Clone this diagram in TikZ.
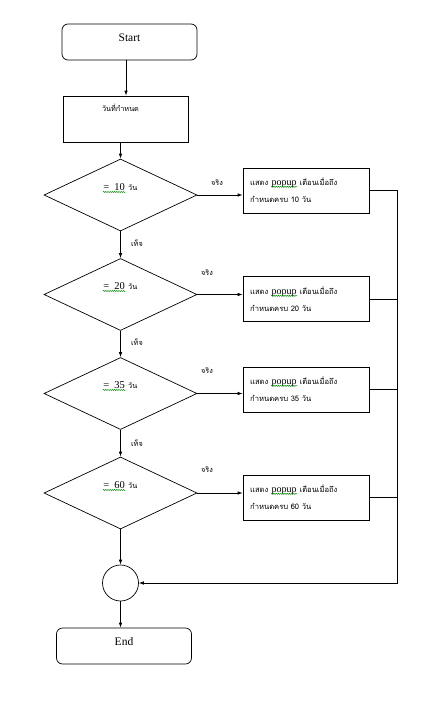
\documentclass[tikz,border=0pt]{standalone}
\usepackage{fontspec}
\setmainfont{Liberation Serif}
\newfontfamily\thai[Script=Thai]{Loma}
\usetikzlibrary{shapes.geometric,arrows.meta,decorations.pathmorphing}
\begin{document}
\begin{tikzpicture}[x=1pt,y=-1pt,
  every path/.style={line width=0.7pt},
  term/.style={draw, rounded corners=6pt, minimum width=135pt, minimum height=36pt, inner sep=0pt},
  proc/.style={draw, minimum width=125pt, minimum height=46pt, inner sep=0pt},
  dec/.style={draw, diamond, minimum width=153pt, minimum height=72pt, inner sep=0pt},
  pop/.style={draw, minimum width=126pt, minimum height=45pt, inner sep=0pt},
  circ/.style={draw, circle, minimum size=36pt, inner sep=0pt},
  lat/.style={font=\fontsize{11.5}{13}\selectfont, inner sep=0pt},
  th/.style={font=\thai\fontsize{7.3}{9}\selectfont, inner sep=0pt},
  dtext/.style={inner sep=0pt, font=\fontsize{10.5}{12}\selectfont},
  ptext/.style={anchor=north west, align=left, inner sep=0pt, font=\thai\fontsize{7.6}{17}\selectfont},
  arr/.style={-{Latex[length=5pt,width=3.5pt]}}]
\useasboundingbox (0,0) rectangle (425,704);
\newcommand\squig[1]{\tikz[baseline=(sq.base),x=1pt,y=1pt]{\node[inner sep=0pt] (sq) {#1};
  \draw[draw=green!55!black, line width=0.45pt, decorate, decoration={snake, amplitude=0.6pt, segment length=2.2pt}] ([yshift=-1.8pt]sq.base west) -- ([yshift=-1.8pt]sq.base east);}}
\newcommand\pu{\squig{\rmfamily\fontsize{10}{12}\selectfont popup}}
\newcommand\dv{{\thai\fontsize{7.3}{9}\selectfont วัน}}
% terminals and process
\node[term] (start) at (129.5,42) {};
\node[lat] (startT) at (129.5,38) {Start};
\node[proc] (date) at (125.5,119) {};
\node[th] (dateT) at (120.5,108) {วันที่กำหนด};
% decisions
\node[dec] (d1) at (120.5,195) {};
\node[dec] (d2) at (120.5,294.5) {};
\node[dec] (d3) at (120.5,393.5) {};
\node[dec] (d4) at (120.5,493) {};
\node[dtext] (d1T) at (120,188) {\squig{=\ \ 10} \dv};
\node[dtext] (d2T) at (120,287) {\squig{=\ \ 20} \dv};
\node[dtext] (d3T) at (120,386) {\squig{=\ \ 35} \dv};
\node[dtext] (d4T) at (120,486) {\squig{=\ \ 60} \dv};
% popups
\node[pop] (p1) at (306,190.5) {};
\node[pop] (p2) at (306,299) {};
\node[pop] (p3) at (306,389.5) {};
\node[pop] (p4) at (306,497.5) {};
\node[ptext] (p1T) at (250,177) {แสดง \pu\ เตือนเมื่อถึง\\กำหนดครบ 10 วัน};
\node[ptext] (p2T) at (250,286) {แสดง \pu\ เตือนเมื่อถึง\\กำหนดครบ 20 วัน};
\node[ptext] (p3T) at (250,376) {แสดง \pu\ เตือนเมื่อถึง\\กำหนดครบ 35 วัน};
\node[ptext] (p4T) at (250,484) {แสดง \pu\ เตือนเมื่อถึง\\กำหนดครบ 60 วัน};
% labels
\node[th] (y1) at (217,183) {จริง};
\node[th] (y2) at (207,273) {จริง};
\node[th] (y3) at (207,371) {จริง};
\node[th] (y4) at (207,470) {จริง};
\node[th] (n1) at (137,243) {เท็จ};
\node[th] (n2) at (137,342) {เท็จ};
\node[th] (n3) at (137,443) {เท็จ};
% join and end
\node[circ] (join) at (120.5,583) {};
\node[term] (end) at (124,646) {};
\node[lat] (endT) at (124,642) {End};
\coordinate (rx) at (397,0);
% connectors
\draw[arr] ([xshift=-3.5pt]start.south) -- ([xshift=-3.5pt]start.south |- date.north);
\draw[arr] (d1.north |- date.south) -- (d1.north);
\draw[arr] (d1.south) -- (d2.north);
\draw[arr] (d2.south) -- (d3.north);
\draw[arr] (d3.south) -- (d4.north);
\draw[arr] (d4.south) -- (join.north);
\draw[arr] (join.south) -- (join.south |- end.north);
\draw[arr] (d1.east) -- (d1.east -| p1.west);
\draw[arr] (d2.east) -- (d2.east -| p2.west);
\draw[arr] (d3.east) -- (d3.east -| p3.west);
\draw[arr] (d4.east) -- (d4.east -| p4.west);
\draw[arr] (p1.east) -- (p1.east -| rx) -- (rx |- join.east) -- (join.east);
\draw (p2.east) -- (p2.east -| rx);
\draw (p3.east) -- (p3.east -| rx);
\draw (p4.east) -- (p4.east -| rx);
\end{tikzpicture}
\end{document}
